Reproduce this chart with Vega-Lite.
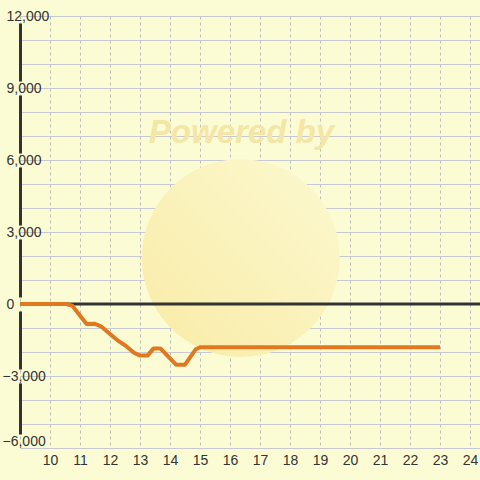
{
  "$schema": "https://vega.github.io/schema/vega-lite/v6.json",
  "width": 460,
  "height": 432,
  "autosize": {"type": "none"},
  "padding": {"left": 20, "top": 16, "right": 0, "bottom": 32},
  "background": "#fcfcd4",
  "config": {
    "view": {"stroke": null},
    "font": "Liberation Sans",
    "axisX": {
      "tickCount": 15,
      "grid": true,
      "gridDash": [3, 3],
      "gridColor": "#bdbdbd",
      "gridOpacity": {"condition": {"test": "datum.value % 1 !== 0", "value": 0}, "value": 1},
      "domain": false,
      "ticks": false,
      "labelExpr": "datum.value < 9.5 || datum.value % 1 !== 0 ? '' : datum.label",
      "labelFontSize": 14,
      "labelColor": "#333333",
      "labelPadding": 5,
      "labelFlush": false,
      "labelOverlap": false
    },
    "axisY": {
      "tickCount": 18,
      "grid": true,
      "gridColor": "#c8c8d0",
      "gridOpacity": {"condition": {"test": "datum.value % 1000 !== 0", "value": 0}, "value": 1},
      "domain": true,
      "domainColor": "#333333",
      "domainWidth": 3,
      "domainDash": [0, 14, 51, 14, 58, 14, 58, 14, 58, 14, 58, 14, 58, 40],
      "ticks": false,
      "labelExpr": "datum.value % 3000 === 0 ? format(datum.value, ',') : ''",
      "labelAlign": "left",
      "labelPadding": {"condition": {"test": "datum.value < 0", "value": 18}, "value": 14},
      "labelBaseline": {"condition": {"test": "datum.value === -6000", "value": "bottom"}, "value": "middle"},
      "labelFlush": false,
      "labelOverlap": false,
      "labelFontSize": 14,
      "labelColor": "#333333"
    }
  },
  "datasets": {
    "pnl": [
      {"hour": 9.0, "pl": 0},
      {"hour": 10.55, "pl": 0},
      {"hour": 10.75, "pl": -80},
      {"hour": 11.22, "pl": -830},
      {"hour": 11.48, "pl": -820},
      {"hour": 11.7, "pl": -930},
      {"hour": 12.0, "pl": -1250},
      {"hour": 12.3, "pl": -1560},
      {"hour": 12.5, "pl": -1720},
      {"hour": 12.8, "pl": -2030},
      {"hour": 13.0, "pl": -2150},
      {"hour": 13.25, "pl": -2150},
      {"hour": 13.45, "pl": -1850},
      {"hour": 13.68, "pl": -1850},
      {"hour": 14.2, "pl": -2530},
      {"hour": 14.5, "pl": -2530},
      {"hour": 14.85, "pl": -1900},
      {"hour": 15.0, "pl": -1800},
      {"hour": 23.0, "pl": -1800}
    ],
    "wm": [{"label": "Powered by"}]
  },
  "layer": [
    {
      "data": {"name": "wm"},
      "mark": {
        "type": "point",
        "filled": true,
        "size": 39204,
        "opacity": 1,
        "strokeWidth": 0,
        "fill": {
          "gradient": "linear",
          "x1": 0, "y1": 1, "x2": 1, "y2": 0,
          "stops": [
            {"offset": 0, "color": "#f9eba6"},
            {"offset": 1, "color": "#fcf9d0"}
          ]
        }
      },
      "encoding": {
        "x": {
          "datum": 16.36,
          "type": "quantitative",
          "scale": {"domain": [9, 24.3333], "nice": false, "zero": false},
          "axis": {"title": null}
        },
        "y": {
          "datum": 1917,
          "type": "quantitative",
          "scale": {"domain": [-6000, 12000], "nice": false, "zero": false},
          "axis": {"title": null}
        }
      }
    },
    {
      "data": {"name": "wm"},
      "mark": {
        "type": "text",
        "fontSize": 33,
        "fontWeight": "bold",
        "fontStyle": "italic",
        "color": "#f3e6a6",
        "align": "center",
        "baseline": "middle"
      },
      "encoding": {
        "x": {"datum": 16.38, "type": "quantitative", "axis": {"title": null}},
        "y": {"datum": 7125, "type": "quantitative", "axis": {"title": null}},
        "text": {"field": "label"}
      }
    },
    {
      "data": {"name": "wm"},
      "mark": {"type": "rule", "color": "#333333", "strokeWidth": 3},
      "encoding": {"y": {"datum": 0, "type": "quantitative", "axis": {"title": null}}}
    },
    {
      "data": {"name": "pnl"},
      "mark": {"type": "line", "color": "#e07820", "strokeWidth": 4, "strokeJoin": "round"},
      "encoding": {
        "x": {"field": "hour", "type": "quantitative", "axis": {"title": null}},
        "y": {"field": "pl", "type": "quantitative", "axis": {"title": null}}
      }
    }
  ]
}
